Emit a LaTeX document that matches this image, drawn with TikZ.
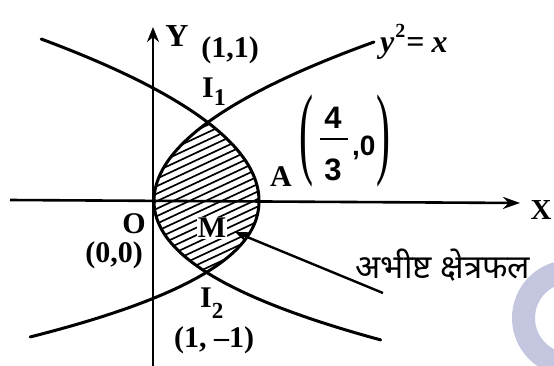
\documentclass[tikz,border=0pt]{standalone}
\usepackage{fontspec}
\setmainfont{Liberation Serif}
\setsansfont{Liberation Sans}
\newfontfamily\devfont[Script=Devanagari]{Noto Sans}
\usetikzlibrary{arrows.meta}
\newcommand{\myfs}[1]{\fontsize{#1}{#1}\selectfont}
\definecolor{wm}{RGB}{196,198,224}
\begin{document}
\begin{tikzpicture}[x=1pt,y=-1pt,
  curve/.style={line width=3pt, line cap=round},
  axis/.style={line width=2.6pt},
  hatch/.style={line width=1.7pt},
  lbl/.style={inner sep=0pt, font=\bfseries\myfs{30}},
  declare function={pa(\s)=154+87*\s*\s; pb(\s)=154+88.18*\s*\s+21.08*\s*\s*\s;
                     qa(\s)=259-83*\s*\s; qb(\s)=259-80.6*\s*\s-31.78*\s*\s*\s;}
]
\useasboundingbox (0,0) rectangle (554,365);
\fill[white] (0,0) rectangle (554,365);
% watermark ring
\begin{scope}
\clip (0,0) rectangle (554,365);
\fill[wm, even odd rule] (570,318) circle[radius=58] (570,318) circle[radius=35];
\end{scope}
% hatching of the lens
\begin{scope}
\clip plot[domain=-0.78:0, samples=30, variable=\s] ({pa(\s)},{201+100*\s})
  -- plot[domain=0:0.71, samples=30, variable=\s] ({pb(\s)},{201+100*\s})
  -- plot[domain=0.71:0, samples=30, variable=\s] ({qb(\s)},{201+100*\s})
  -- plot[domain=0:-0.78, samples=30, variable=\s] ({qa(\s)},{201+100*\s}) -- cycle;
\foreach \c in {104,111.5,...,352} \draw[hatch] (140,\c) -- (275,\c-63);
\end{scope}
% axes
\coordinate (ybot) at (153,366);
\coordinate (ytop) at (153,27);
\coordinate (xleft) at (10,200);
\coordinate (xright) at (520,203);
\draw[axis,-{Stealth[length=15pt,width=12pt]}] (ybot) -- (ytop);
\draw[axis,-{Stealth[length=17pt,width=12pt]}] (xleft) -- (xright);
% curves
\draw[curve] plot[domain=-1.59:0, samples=60, variable=\s] ({pa(\s)},{201+100*\s});
\draw[curve] plot[domain=0:1.39, samples=60, variable=\s] ({pb(\s)},{201+100*\s});
\draw[curve] plot[domain=-1.62:0, samples=60, variable=\s] ({qa(\s)},{201+100*\s});
\draw[curve] plot[domain=0:1.36, samples=60, variable=\s] ({qb(\s)},{201+100*\s});
% labels
\node[lbl, font=\bfseries\myfs{32}] (ylab) at (177,36) {Y};
\node[lbl] (p11) at (230,50) {(1,1)};
\node[lbl, anchor=base west] (i1) at (202,97) {I\raisebox{-8pt}{\myfs{24}1}};
\node[lbl, font=\bfseries\itshape\myfs{32}, anchor=base west] (curvelab) at (380,52)
  {y\kern1pt\raisebox{15pt}{\upshape\myfs{20}2}\kern1pt\upshape=\kern7pt\itshape x};
\node[lbl] (alab) at (281,177) {A};
\node[inner sep=0pt, font=\myfs{30}] (lpar) at (306,141) {\scalebox{1.4}[3.4]{(}};
\node[inner sep=0pt, font=\myfs{30}] (rpar) at (383,141) {\scalebox{1.4}[3.4]{)}};
\node[lbl, font=\sffamily\bfseries\myfs{31}] (num) at (333,118) {4};
\node[lbl, font=\sffamily\bfseries\myfs{31}] (den) at (333,170) {3};
\coordinate (barl) at (320,139);
\coordinate (barr) at (348,139);
\draw[line width=2.8pt] (barl) -- (barr);
\node[lbl, font=\sffamily\bfseries\myfs{28}, anchor=base west] (zero) at (352,155) {,0};
\node[lbl] (olab) at (134,224) {O};
\node[lbl] (p00) at (114,255) {(0,0)};
\node[lbl, fill=white, inner sep=1pt] (mlab) at (212,228) {M};
\node[lbl, anchor=base west] (i2) at (200,307) {I\raisebox{-11pt}{\myfs{23}2}};
\node[lbl] (p1m1) at (214,340) {(1, --1)};
\node[lbl, font=\bfseries\myfs{29}] (xlab) at (541,210) {X};
\node[inner sep=0pt, font=\devfont\bfseries\myfs{33}] (hindi) at (443,265) {अभीष्ट क्षेत्रफल};
% pointer arrow
\coordinate (atail) at (383,293);
\coordinate (atip) at (235,232);
\draw[line width=2.4pt, -{Stealth[length=13pt,width=10pt]}] (atail) -- (atip);
\end{tikzpicture}
\end{document}
